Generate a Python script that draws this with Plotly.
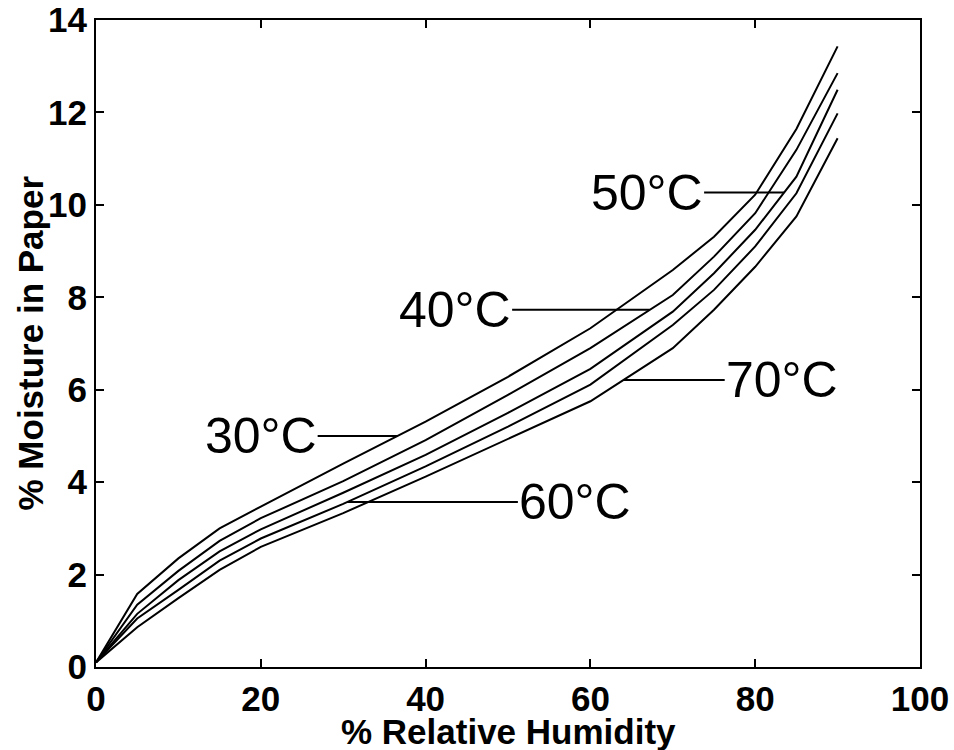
import numpy as np
import plotly.graph_objects as go

# Relative humidity (%) at which moisture content was tabulated
humidity = [0, 5, 10, 15, 20, 30, 40, 50, 60, 70, 75, 80, 85, 90]

# Equilibrium moisture content of paper (%) at each temperature
moisture_30C = [0.1, 1.58, 2.35, 3.00, 3.47, 4.40, 5.31, 6.28, 7.33, 8.59, 9.31, 10.22, 11.64, 13.43]
moisture_40C = [0.1, 1.35, 2.08, 2.73, 3.22, 4.02, 4.91, 5.89, 6.90, 8.05, 8.88, 9.82, 11.19, 12.85]
moisture_50C = [0.1, 1.15, 1.88, 2.50, 2.98, 3.77, 4.59, 5.50, 6.45, 7.69, 8.52, 9.46, 10.61, 12.49]
moisture_60C = [0.1, 1.05, 1.67, 2.30, 2.78, 3.53, 4.34, 5.20, 6.11, 7.40, 8.16, 9.10, 10.25, 11.98]
moisture_70C = [0.1, 0.86, 1.49, 2.10, 2.60, 3.33, 4.12, 4.94, 5.75, 6.90, 7.73, 8.66, 9.75, 11.44]

curve_names = ["30°C", "40°C", "50°C", "60°C", "70°C"]
curves = [moisture_30C, moisture_40C, moisture_50C, moisture_60C, moisture_70C]

# Label callouts: where the leader touches its curve, and where the leader's
# free end (next to the text) sits, both in humidity units
leader_touch_x = [36.6, 67.2, 83.5, 30.5, 64.0]
leader_free_x = [26.9, 50.5, 73.8, 51.2, 76.3]

x_ticks = [0, 20, 40, 60, 80, 100]
y_ticks = [0, 2, 4, 6, 8, 10, 12, 14]

fig = go.Figure()

for name, ys in zip(curve_names, curves):
    fig.add_trace(go.Scatter(
        x=humidity, y=ys, mode="lines", name=name,
        line=dict(color="black", width=2),
        showlegend=False, hoverinfo="skip",
    ))

label_font = dict(family="Liberation Sans, Arial, sans-serif", size=50, color="black")

for name, ys, x_touch, x_free in zip(curve_names, curves, leader_touch_x, leader_free_x):
    y_level = float(np.interp(x_touch, humidity, ys))
    fig.add_shape(
        type="line", xref="x", yref="y",
        x0=x_touch, x1=x_free, y0=y_level, y1=y_level,
        line=dict(color="black", width=2),
    )
    text_on_left = x_free < x_touch
    fig.add_annotation(
        x=x_free, y=y_level, xref="x", yref="y",
        text=name, showarrow=False, font=label_font,
        xanchor="right" if text_on_left else "left", yanchor="middle",
        xshift=1 if text_on_left else -1,
    )

tick_font = dict(family="Liberation Sans, Arial, sans-serif", size=35, color="black", weight="bold")
title_font = dict(family="Liberation Sans, Arial, sans-serif", size=35, color="black", weight="bold")

axis_common = dict(
    showline=True, linecolor="black", linewidth=2, mirror="ticks",
    ticks="inside", ticklen=8, tickwidth=1.5, tickcolor="black",
    showgrid=False, zeroline=False, tickfont=tick_font, automargin=False,
)

fig.update_xaxes(range=[0, 100], tickvals=x_ticks, **axis_common)
fig.update_yaxes(range=[0, 14], tickvals=y_ticks, ticklabelstandoff=0, **axis_common)

# Axis titles placed as paper-referenced text
fig.add_annotation(
    x=0.5, y=0, xref="paper", yref="paper", yshift=-64,
    text="% Relative Humidity", showarrow=False, font=title_font,
    xanchor="center", yanchor="middle",
)
fig.add_annotation(
    x=0, y=0.5, xref="paper", yref="paper", xshift=-66,
    text="% Moisture in Paper", showarrow=False, font=title_font,
    textangle=-90, xanchor="center", yanchor="middle",
)

fig.update_layout(
    template="none",
    width=954, height=750,
    margin=dict(l=96, r=34, t=20, b=83),
    paper_bgcolor="white", plot_bgcolor="white",
    showlegend=False,
)

fig.write_html("out.html")
